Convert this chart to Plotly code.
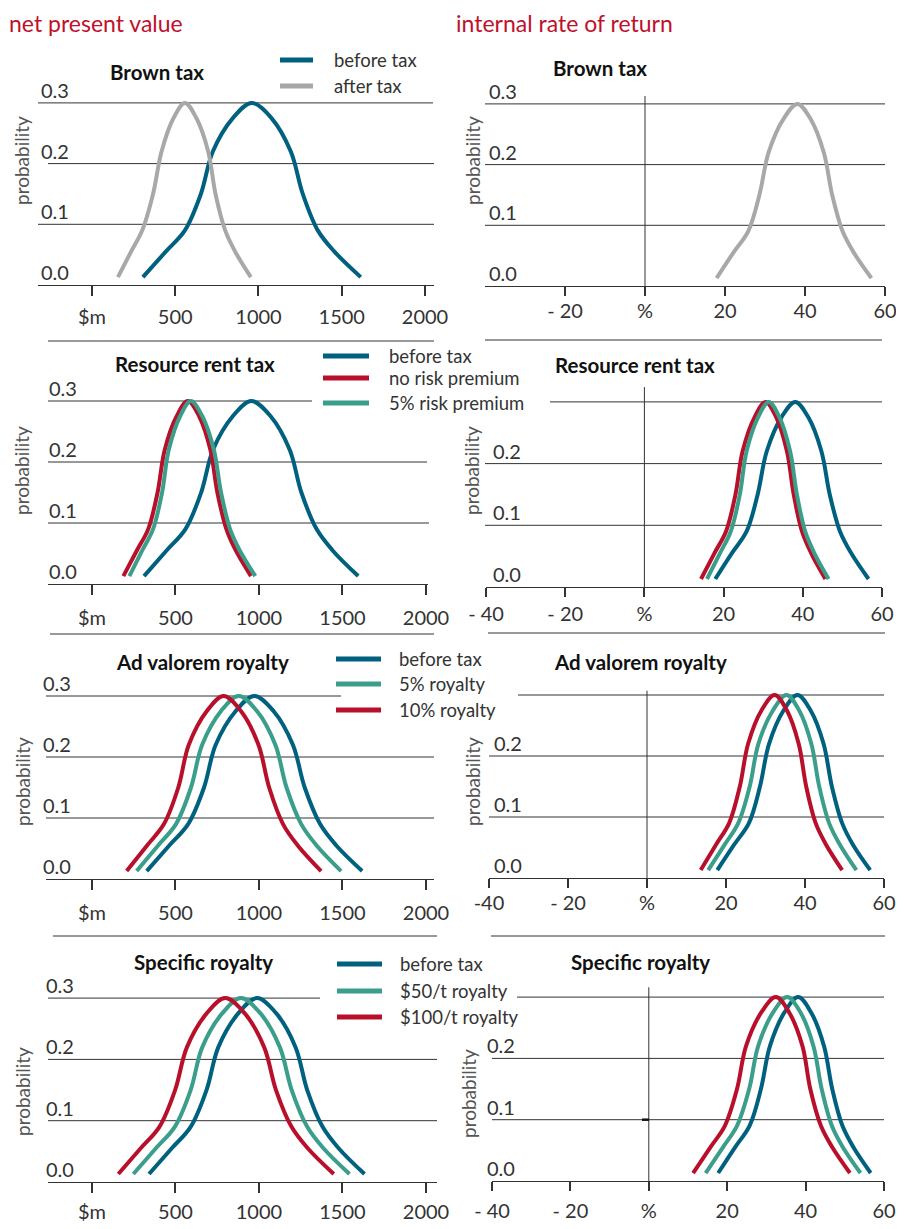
import plotly.graph_objects as go

# ---------------- data ----------------
prob = [0.013, 0.055, 0.09, 0.15, 0.22, 0.275, 0.30, 0.275, 0.22, 0.15, 0.09, 0.055, 0.013]

# Brown tax
npv_brown_before = [306, 443, 558, 654, 726, 846, 960, 1078, 1194, 1266, 1356, 1456, 1614]
npv_brown_after = [156, 235, 302, 367, 418, 490, 558, 627, 698, 742, 800, 860, 954]
irr_brown_after = [17.9, 22.1, 25.8, 28.6, 30.9, 34.6, 38.1, 41.4, 44.7, 46.8, 49.4, 52.2, 56.6]

# Resource rent tax
npv_rrt_before = [312, 447, 560, 654, 725, 843, 955, 1070, 1184, 1254, 1345, 1441, 1594]
npv_rrt_norisk = [188, 269, 337, 393, 436, 507, 574, 642, 709, 751, 805, 861, 952]
npv_rrt_5pct = [224, 301, 366, 420, 460, 528, 592, 661, 730, 773, 827, 885, 978]
irr_rrt_before = [17.9, 22.1, 25.8, 28.6, 30.9, 34.6, 38.1, 41.4, 44.7, 46.8, 49.4, 52.2, 56.6]
irr_rrt_norisk = [14.3, 17.7, 20.6, 23.0, 24.8, 27.8, 30.6, 33.3, 36.0, 37.7, 39.8, 42.1, 45.7]
irr_rrt_5pct = [15.8, 19.1, 21.8, 24.1, 25.8, 28.7, 31.4, 34.1, 36.8, 38.5, 40.6, 42.9, 46.5]

# Ad valorem royalty
npv_adv_before = [328, 463, 576, 671, 741, 860, 972, 1088, 1203, 1274, 1366, 1463, 1618]
npv_adv_5pct = [268, 396, 503, 593, 660, 772, 878, 989, 1098, 1165, 1253, 1345, 1492]
npv_adv_10pct = [208, 330, 431, 517, 580, 687, 788, 893, 997, 1061, 1144, 1232, 1372]
irr_adv_before = [17.8, 22.1, 25.8, 28.6, 30.9, 34.6, 38.1, 41.4, 44.7, 46.8, 49.4, 52.1, 56.5]
irr_adv_5pct = [15.5, 19.7, 23.1, 26.0, 28.2, 31.9, 35.3, 38.5, 41.6, 43.6, 46.1, 48.8, 53.0]
irr_adv_10pct = [13.6, 17.5, 20.8, 23.5, 25.6, 29.0, 32.3, 35.4, 38.4, 40.3, 42.7, 45.3, 49.4]

# Specific royalty
npv_spec_before = [342, 478, 591, 686, 757, 876, 988, 1104, 1219, 1289, 1381, 1477, 1632]
npv_spec_50 = [248, 383, 496, 591, 661, 780, 892, 1009, 1125, 1196, 1289, 1386, 1542]
npv_spec_100 = [158, 292, 404, 498, 569, 687, 798, 915, 1031, 1102, 1195, 1292, 1448]
irr_spec_before = [17.7, 22.0, 25.7, 28.6, 30.9, 34.6, 38.1, 41.4, 44.7, 46.8, 49.4, 52.2, 56.6]
irr_spec_50 = [14.5, 18.9, 22.5, 25.6, 27.9, 31.7, 35.3, 38.7, 42.0, 44.1, 46.7, 49.5, 54.0]
irr_spec_100 = [11.3, 15.7, 19.4, 22.5, 24.8, 28.7, 32.4, 35.8, 39.2, 41.2, 43.9, 46.8, 51.3]

npv_tickvals = [0, 500, 1000, 1500, 2000]
npv_ticktext = ["$m", "500", "1000", "1500", "2000"]
irr_tickvals_r1 = [-20, 0, 20, 40, 60]
irr_ticktext_r1 = ["- 20", "%", "20", "40", "60"]
irr_tickvals = [-40, -20, 0, 20, 40, 60]
irr_ticktext = ["- 40", "- 20", "%", "20", "40", "60"]
irr_ticktext_r3 = ["-40", "- 20", "%", "20", "40", "60"]
prob_labels = ["0.0", "0.1", "0.2", "0.3"]
prob_vals = [0.0, 0.1, 0.2, 0.3]

titles = ["Brown tax", "Resource rent tax", "Ad valorem royalty", "Specific royalty"]
legend_texts = [
    ["before tax", "after tax"],
    ["before tax", "no risk premium", "5% risk premium"],
    ["before tax", "5% royalty", "10% royalty"],
    ["before tax", "$50/t royalty", "$100/t royalty"],
]

# ---------------- style ----------------
W, H = 904, 1229
OFF = 8  # page body margin
BLUE = "#00607f"
GRAY = "#a6a9a8"
RED = "#b8102a"
GREEN = "#3a9e8a"
TITLE_RED = "#c0102c"
FONT = "Lato, 'Noto Sans', sans-serif"
LINEC = "#333333"
TXT = "#333333"


def fx(p):
    return (p - OFF) / W


def fy(p):
    return 1 - (p - OFF) / H


# panel geometry (pixels in the target picture)
panels = [
    # R1L
    dict(xl=38, xr=434, base=285, sc=607, xr_=[-324, 2054], tv=npv_tickvals, tt=npv_ticktext, so=4, tl=10,
         grid={0.1: (38, 434), 0.2: (48, 434), 0.3: (38, 433)}, ylab_x=55, ylabs=[0, 1, 2, 3], ptitle=(21, 161),
         title=(157, 72), vline=None),
    # R1R
    dict(xl=485, xr=885, base=286, sc=607, xr_=[-40, 60], tv=irr_tickvals_r1, tt=irr_ticktext_r1, so=-2, tl=9,
         grid={0.1: (485, 885), 0.2: (485, 885), 0.3: (485, 885)}, ylab_x=503, ylabs=[0, 1, 2, 3],
         ptitle=(472, 161), title=(600, 68), vline=0.313),
    # R2L
    dict(xl=48, xr=428, base=584, sc=610, xr_=[-263, 2012], tv=npv_tickvals, tt=npv_ticktext, so=6, tl=10,
         grid={0.1: (48, 429), 0.2: (48, 427), 0.3: (48, 312)}, ylab_x=63, ylabs=[0, 1, 2, 3], ptitle=(22, 471),
         title=(195, 364), vline=None),
    # R2R
    dict(xl=486, xr=882, base=587, sc=617, xr_=[-40, 60], tv=irr_tickvals, tt=irr_ticktext, so=0, tl=9,
         grid={0.1: (485, 882), 0.2: (485, 882), 0.3: (550, 882)}, ylab_x=507, ylabs=[0, 1, 2],
         ptitle=(472, 471), title=(635, 365), vline=0.324),
    # R3L
    dict(xl=46, xr=434, base=879, sc=610, xr_=[-275, 2048], tv=npv_tickvals, tt=npv_ticktext, so=6, tl=10,
         grid={0.1: (46, 434), 0.2: (46, 434), 0.3: (46, 341)}, ylab_x=57, ylabs=[0, 1, 2, 3], ptitle=(22, 782),
         title=(202, 662), vline=None),
    # R3R
    dict(xl=489, xr=884, base=878, sc=610, xr_=[-40, 60], tv=irr_tickvals, tt=irr_ticktext_r3, so=-2, tl=9,
         grid={0.1: (489, 884), 0.2: (489, 884), 0.3: (518, 884)}, ylab_x=508, ylabs=[0, 1, 2],
         ptitle=(472, 782), title=(640, 662), vline=0.307),
    # R4L
    dict(xl=48, xr=437, base=1182, sc=613, xr_=[-263, 2066], tv=npv_tickvals, tt=npv_ticktext, so=2, tl=10,
         grid={0.1: (48, 437), 0.2: (48, 437), 0.3: (48, 320)}, ylab_x=60, ylabs=[0, 1, 2, 3], ptitle=(22, 1092),
         title=(203, 962), vline=None),
    # R4R
    dict(xl=492, xr=884, base=1181, sc=613, xr_=[-40, 60], tv=irr_tickvals, tt=irr_ticktext, so=3, tl=9,
         grid={0.1: (492, 884), 0.2: (492, 884), 0.3: (517, 884)}, ylab_x=501, ylabs=[0, 1, 2],
         ptitle=(468, 1094), title=(640, 962), vline=0.316),
]

series = [
    [(npv_brown_before, BLUE), (npv_brown_after, GRAY)],
    [(irr_brown_after, GRAY)],
    [(npv_rrt_before, BLUE), (npv_rrt_norisk, RED), (npv_rrt_5pct, GREEN)],
    [(irr_rrt_before, BLUE), (irr_rrt_norisk, RED), (irr_rrt_5pct, GREEN)],
    [(npv_adv_before, BLUE), (npv_adv_5pct, GREEN), (npv_adv_10pct, RED)],
    [(irr_adv_before, BLUE), (irr_adv_5pct, GREEN), (irr_adv_10pct, RED)],
    [(npv_spec_before, BLUE), (npv_spec_50, GREEN), (npv_spec_100, RED)],
    [(irr_spec_before, BLUE), (irr_spec_50, GREEN), (irr_spec_100, RED)],
]

legends = [
    dict(x0=280, x1=313, tx=332, ys=[60, 86], cols=[BLUE, GRAY]),
    dict(x0=323, x1=369, tx=387, ys=[356, 378, 403], cols=[BLUE, RED, GREEN]),
    dict(x0=336, x1=381, tx=397, ys=[659, 684, 710], cols=[BLUE, GREEN, RED]),
    dict(x0=337, x1=382, tx=398, ys=[964, 991, 1017], cols=[BLUE, GREEN, RED]),
]

separators = [
    (341, 48, 434), (340, 485, 882),
    (634, 50, 434), (633, 488, 885),
    (936, 53, 437), (936, 491, 885),
]

fig = go.Figure()
layout = dict(
    width=W, height=H, margin=dict(l=0, r=0, t=0, b=0, autoexpand=False),
    paper_bgcolor="white", plot_bgcolor="rgba(0,0,0,0)",
    showlegend=False, font=dict(family=FONT, color=TXT),
)
shapes = []
annotations = []
YMAX = 0.35

for i, p in enumerate(panels):
    n = i + 1
    sfx = "" if n == 1 else str(n)
    xa, ya = "x" + sfx, "y" + sfx
    top_px = p["base"] - YMAX * p["sc"]
    layout["xaxis" + sfx] = dict(
        domain=[fx(p["xl"]), fx(p["xr"])], range=p["xr_"], anchor=ya,
        showgrid=False, zeroline=False, showline=True, linecolor=LINEC, linewidth=1,
        tickmode="array", tickvals=p["tv"], ticktext=p["tt"], ticks="outside",
        ticklen=p["tl"], tickwidth=1.5, tickcolor=LINEC, ticklabelstandoff=p["so"],
        tickfont=dict(family=FONT, size=20, color=TXT), fixedrange=True, automargin=False,
    )
    layout["yaxis" + sfx] = dict(
        domain=[fy(p["base"]), fy(top_px)], range=[0, YMAX], anchor=xa,
        showgrid=False, zeroline=False, showline=False, showticklabels=False,
        ticks="", fixedrange=True, automargin=False,
    )
    for xs, col in series[i]:
        fig.add_trace(go.Scatter(
            x=xs, y=prob, mode="lines", xaxis=xa, yaxis=ya,
            line=dict(color=col, width=4, shape="spline", smoothing=1.0),
            hoverinfo="skip", showlegend=False,
        ))
    # gridlines
    for v, (a, b) in p["grid"].items():
        shapes.append(dict(type="line", xref="paper", yref=ya, x0=fx(a), x1=fx(b), y0=v, y1=v,
                           line=dict(color=LINEC, width=1), layer="below"))
    # zero line for IRR
    if p["vline"] is not None:
        shapes.append(dict(type="line", xref=xa, yref=ya, x0=0, x1=0, y0=0, y1=p["vline"],
                           line=dict(color=LINEC, width=1), layer="below"))
    # y tick labels
    for k in p["ylabs"]:
        annotations.append(dict(text=prob_labels[k], xref="paper", yref=ya, x=fx(p["ylab_x"]),
                                y=prob_vals[k], xanchor="center", yanchor="bottom", yshift=-1,
                                showarrow=False, font=dict(family=FONT, size=20, color=TXT)))
    # probability title
    annotations.append(dict(text="probability", xref="paper", yref="paper", x=fx(p["ptitle"][0]),
                            y=fy(p["ptitle"][1]), textangle=-90, xanchor="center", yanchor="middle",
                            showarrow=False, font=dict(family=FONT, size=19, color="#555555")))
    # panel title
    annotations.append(dict(text="<b>" + titles[i // 2] + "</b>", xref="paper", yref="paper",
                            x=fx(p["title"][0]), y=fy(p["title"][1]), xanchor="center", yanchor="middle",
                            showarrow=False, font=dict(family=FONT, size=20.5, color="#111111")))

# small mark on IRR specific royalty zero line
shapes.append(dict(type="line", xref="paper", yref="y8", x0=fx(642), x1=fx(649), y0=0.1, y1=0.1,
                   line=dict(color="#111111", width=2.5)))

# legends
for lg, texts in zip(legends, legend_texts):
    for yy, col, t in zip(lg["ys"], lg["cols"], texts):
        shapes.append(dict(type="line", xref="paper", yref="paper", x0=fx(lg["x0"]), x1=fx(lg["x1"]),
                           y0=fy(yy), y1=fy(yy), line=dict(color=col, width=5)))
        annotations.append(dict(text=t, xref="paper", yref="paper", x=fx(lg["tx"]), y=fy(yy),
                                xanchor="left", yanchor="middle", showarrow=False,
                                font=dict(family=FONT, size=18.5, color=TXT)))

# separators
for yy, a, b in separators:
    shapes.append(dict(type="line", xref="paper", yref="paper", x0=fx(a), x1=fx(b), y0=fy(yy), y1=fy(yy),
                       line=dict(color=LINEC, width=1)))

# main titles (anchored to the top of the figure so they are not clipped)
annotations.append(dict(text="net present value", xref="paper", yref="paper", x=fx(8), y=1,
                        xanchor="left", yanchor="top", showarrow=False, borderpad=0,
                        font=dict(family=FONT, size=23, color=TITLE_RED)))
annotations.append(dict(text="internal rate of return", xref="paper", yref="paper", x=fx(455), y=1,
                        xanchor="left", yanchor="top", showarrow=False, borderpad=0,
                        font=dict(family=FONT, size=23, color=TITLE_RED)))

layout["shapes"] = shapes
layout["annotations"] = annotations
fig.update_layout(**layout)
fig.write_html("out.html")
